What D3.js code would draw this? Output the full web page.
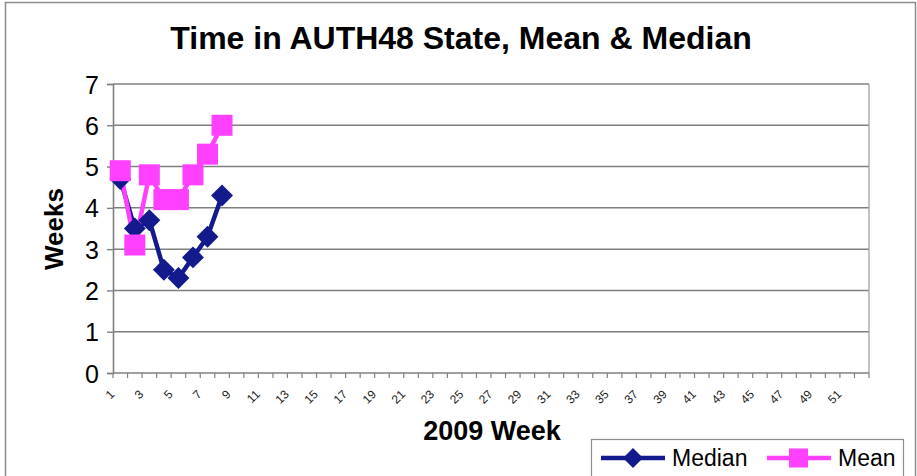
<!DOCTYPE html>
<html>
<head>
<meta charset="utf-8">
<script src="https://cdn.jsdelivr.net/npm/d3@7"></script>
<style>
  body { margin: 0; background: #fff; }
  svg { display: block; font-family: "Liberation Sans", Arial, sans-serif; }
</style>
</head>
<body>
<svg id="chart" width="917" height="476"></svg>
<script>
  'use strict';

  // chart data
  var weeks = d3.range(1, 53);
  var dataWeeks = [1, 2, 3, 4, 5, 6, 7, 8];
  var medianValues = [4.7, 3.5, 3.7, 2.5, 2.3, 2.8, 3.3, 4.3];
  var meanValues = [4.9, 3.1, 4.8, 4.2, 4.2, 4.8, 5.3, 6.0];
  var yTicks = [0, 1, 2, 3, 4, 5, 6, 7];
  var xTickLabels = weeks.filter(function(w) { return w % 2 === 1; });
  var seriesNames = ['Median', 'Mean'];

  var navy = '#121a8c',
      pink = '#ff40ff',
      grid = '#7f7f7f';

  var plot = { left: 113, right: 869, top: 84, bottom: 373 };

  var svg = d3.select('#chart');

  // outer frame
  svg.append('rect')
    .attr('x', 5.5).attr('y', 2.5)
    .attr('width', 910).attr('height', 480)
    .attr('fill', '#fff')
    .attr('stroke', '#8c8c8c').attr('stroke-width', 1.5);

  var x = d3.scaleBand()
    .domain(weeks)
    .range([plot.left, plot.right]);

  var y = d3.scaleLinear()
    .domain([0, 7])
    .range([plot.bottom, plot.top]);

  // title
  svg.append('text')
    .attr('x', 461).attr('y', 49)
    .attr('text-anchor', 'middle')
    .style('font-size', '32px').style('font-weight', 'bold')
    .text('Time in AUTH48 State, Mean & Median');

  // gridlines
  svg.append('g').selectAll('line')
    .data(yTicks.slice(1))
    .join('line')
    .attr('x1', plot.left).attr('x2', plot.right)
    .attr('y1', function(d) { return y(d); })
    .attr('y2', function(d) { return y(d); })
    .attr('stroke', grid).attr('stroke-width', 1.5);

  // plot border (right side)
  svg.append('line')
    .attr('x1', plot.right).attr('x2', plot.right)
    .attr('y1', plot.top).attr('y2', plot.bottom)
    .attr('stroke', '#a0a0a0').attr('stroke-width', 1.3);

  // y axis
  var yAxis = d3.axisLeft(y)
    .tickValues(yTicks)
    .tickSize(6)
    .tickPadding(8)
    .tickFormat(d3.format('d'));

  var gy = svg.append('g')
    .attr('transform', 'translate(' + plot.left + ',0)')
    .call(yAxis);
  gy.select('.domain').attr('stroke', '#808080').attr('stroke-width', 1.6);
  gy.selectAll('.tick line').attr('stroke', '#808080').attr('stroke-width', 1.4);
  gy.selectAll('.tick text')
    .attr('fill', '#000')
    .style('font-size', '25px')
    .style('font-family', '"Liberation Sans", Arial, sans-serif')
    .attr('dy', '0.36em');

  // x axis: tick marks at category boundaries
  var gx = svg.append('g');
  gx.append('line')
    .attr('x1', plot.left).attr('x2', plot.right)
    .attr('y1', plot.bottom).attr('y2', plot.bottom)
    .attr('stroke', '#808080').attr('stroke-width', 1.6);
  gx.selectAll('line.tick')
    .data(weeks.concat([53]))
    .join('line')
    .attr('class', 'tick')
    .attr('x1', function(d) { return d === 53 ? plot.right : x(d); })
    .attr('x2', function(d) { return d === 53 ? plot.right : x(d); })
    .attr('y1', plot.bottom).attr('y2', plot.bottom + 5)
    .attr('stroke', '#808080').attr('stroke-width', 1.2);
  gx.selectAll('text')
    .data(xTickLabels)
    .join('text')
    .attr('transform', function(d) {
      return 'translate(' + (x(d) + x.bandwidth() / 2 - 8) + ',' + (plot.bottom + 19) + ') rotate(-45)';
    })
    .attr('text-anchor', 'end')
    .attr('dy', '0.35em')
    .attr('fill', '#222')
    .style('font-size', '12px')
    .text(function(d) { return d; });

  // axis titles
  svg.append('text')
    .attr('transform', 'translate(63,229) rotate(-90)')
    .attr('text-anchor', 'middle')
    .style('font-size', '26px').style('font-weight', 'bold')
    .text('Weeks');

  svg.append('text')
    .attr('x', 492).attr('y', 440)
    .attr('text-anchor', 'middle')
    .style('font-size', '27px').style('font-weight', 'bold')
    .text('2009 Week');

  // series
  function cx(d) { return x(d) + x.bandwidth() / 2; }

  var line = d3.line()
    .x(function(d) { return cx(d[0]); })
    .y(function(d) { return y(d[1]); });

  var medianPts = d3.zip(dataWeeks, medianValues),
      meanPts = d3.zip(dataWeeks, meanValues);

  var diamond = d3.symbol().type(d3.symbolSquare).size(240);

  svg.append('path').datum(medianPts)
    .attr('d', line).attr('fill', 'none')
    .attr('stroke', navy).attr('stroke-width', 4.5)
    .attr('stroke-linejoin', 'round');
  svg.append('path').datum(meanPts)
    .attr('d', line).attr('fill', 'none')
    .attr('stroke', pink).attr('stroke-width', 4.5)
    .attr('stroke-linejoin', 'round');

  svg.append('g').selectAll('path')
    .data(medianPts)
    .join('path')
    .attr('d', diamond)
    .attr('transform', function(d) {
      return 'translate(' + cx(d[0]) + ',' + y(d[1]) + ') rotate(45)';
    })
    .attr('fill', navy);

  svg.append('g').selectAll('rect')
    .data(meanPts)
    .join('rect')
    .attr('x', function(d) { return cx(d[0]) - 10.5; })
    .attr('y', function(d) { return y(d[1]) - 10.5; })
    .attr('width', 21).attr('height', 21)
    .attr('fill', pink);

  // legend
  var legend = svg.append('g').attr('transform', 'translate(591,439)');
  legend.append('rect')
    .attr('x', 0.5).attr('y', 0.5)
    .attr('width', 312).attr('height', 60)
    .attr('fill', '#fff')
    .attr('stroke', '#8c8c8c').attr('stroke-width', 1.2);

  var items = legend.selectAll('g.item')
    .data(seriesNames)
    .join('g')
    .attr('class', 'item')
    .attr('transform', function(d, i) { return 'translate(' + (10 + i * 166) + ',19)'; });

  items.append('line')
    .attr('x1', 0).attr('x2', 64)
    .attr('y1', 0).attr('y2', 0)
    .attr('stroke', function(d, i) { return i === 0 ? navy : pink; })
    .attr('stroke-width', 4.5);

  items.each(function(d, i) {
    var g = d3.select(this);
    if (i === 0) {
      g.append('path')
        .attr('d', d3.symbol().type(d3.symbolSquare).size(200))
        .attr('transform', 'translate(32,0) rotate(45)')
        .attr('fill', navy);
    } else {
      g.append('rect')
        .attr('x', 22).attr('y', -9.5)
        .attr('width', 19).attr('height', 19)
        .attr('fill', pink);
    }
  });

  items.append('text')
    .attr('x', 71).attr('y', 0)
    .attr('dy', '0.36em')
    .style('font-size', '23px')
    .text(function(d) { return d; });
</script>
</body>
</html>
